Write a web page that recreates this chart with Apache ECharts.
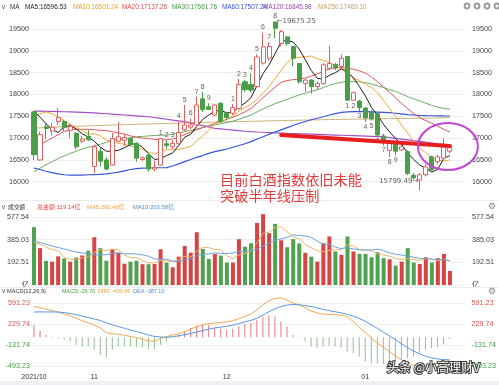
<!DOCTYPE html>
<html><head><meta charset="utf-8">
<script src="https://cdn.jsdelivr.net/npm/echarts@6/dist/echarts.min.js"></script>
<style>html,body{margin:0;padding:0;background:#fff}#c{width:499px;height:385px}</style>
</head><body><div id="c"></div>
<script>
// ---------- DATA ----------
const dates = [
'2021/10/18','2021/10/19','2021/10/20','2021/10/21','2021/10/22','2021/10/25','2021/10/26','2021/10/27','2021/10/28','2021/10/29',
'2021/11/01','2021/11/02','2021/11/03','2021/11/04','2021/11/05','2021/11/08','2021/11/09','2021/11/10','2021/11/11','2021/11/12',
'2021/11/15','2021/11/16','2021/11/17','2021/11/18','2021/11/19','2021/11/22','2021/11/23','2021/11/24','2021/11/25','2021/11/26',
'2021/11/29','2021/11/30','2021/12/01','2021/12/02','2021/12/03','2021/12/06','2021/12/07','2021/12/08','2021/12/09','2021/12/10',
'2021/12/13','2021/12/14','2021/12/15','2021/12/16','2021/12/17','2021/12/20','2021/12/21','2021/12/22','2021/12/23','2021/12/24',
'2021/12/27','2021/12/28','2021/12/29','2021/12/30','2021/12/31','2022/01/04','2022/01/05','2022/01/06','2022/01/07','2022/01/10',
'2022/01/11','2022/01/12','2022/01/13','2022/01/14','2022/01/17','2022/01/18','2022/01/19','2022/01/20','2022/01/21','2022/01/24'];
const monthLabels = ['2021/10','11','12','01'];
const openP = [17600,16500,17260,17160,17380,17380,17180,17110,16930,17040,
16350,16700,16500,16380,16930,16950,16990,16880,16510,16610,
16290,16380,16870,16800,16880,17190,17250,17300,17900,17720,
17530,17800,17570,17570,17680,18290,18230,18180,18720,18830,
19660,19170,19320,19095,18710,18250,18330,18180,18250,18600,
18690,18640,18870,17870,17850,17690,17600,17560,17050,16720,
16870,16730,16690,16150,16040,16160,16570,16460,16540,16700];
const closeP = [16620,17080,17220,17250,17470,17240,17270,16800,16980,16960,
16800,16470,16290,16990,17030,17010,16850,16540,16550,16290,
16330,16990,16830,16880,17130,17300,17300,17760,17650,17660,
17760,17380,17470,17700,18230,18110,18100,18860,19090,19100,
19520,19440,19170,18830,18290,18330,18180,18250,18680,18710,
18610,18830,17870,18040,17700,17460,17440,17070,16900,16880,
16700,16800,16190,16090,16160,16340,16270,16570,16800,16780];
const lowP = [16500,16480,16980,17060,17300,17160,17000,16740,16880,16930,
16200,16350,16260,16360,16900,16820,16820,16460,16480,16230,
16240,16370,16760,16750,16850,17150,17200,17250,17600,17640,
17500,17350,17420,17530,17650,18060,18050,18150,18680,18780,
19290,19100,19120,18650,18250,18060,18020,18100,18220,18560,
18560,18600,17850,17850,17620,17370,17400,17050,16830,16560,
16600,16700,16150,16050,15799.49,16120,16250,16400,16500,16650];
const highP = [17620,17150,17350,17350,17690,17420,17330,17140,17050,17180,
16850,16780,16560,17120,17370,17100,17000,16900,16580,16650,
16480,17000,16950,16950,17380,17760,17450,17950,18060,17800,
17780,17820,17600,17780,18360,18340,18480,18920,19420,19200,
19675.25,19480,19340,19100,18720,18360,18350,18300,18720,19120,
18720,18920,18880,18070,17880,17710,17650,17580,17100,16900,
16880,16850,16720,16200,16200,16400,16600,16620,16990,16850];
const ma5 = [17620,17480,17330,17200,17130,17260,17290,17210,17100,17020,
16930,16790,16700,16700,16720,16780,16850,16880,16790,16640,
16510,16530,16600,16660,16830,17020,17090,17270,17430,17530,
17620,17630,17580,17590,17720,17800,17930,18200,18480,18680,
18940,19200,19250,19200,19040,18800,18550,18370,18350,18440,
18500,18590,18520,18380,18180,17960,17700,17530,17310,17140,
16990,16850,16660,16510,16380,16310,16220,16290,16540,16596.53];
const ma10 = [17500,17560,17600,17560,17480,17400,17320,17250,17170,17090,
17100,17050,16950,16930,16880,16860,16820,16790,16750,16680,
16640,16690,16740,16730,16740,16770,16810,16940,17050,17180,
17330,17370,17430,17510,17620,17700,17780,17890,18040,18180,
18360,18560,18730,18850,18850,18870,18880,18820,18780,18740,
18650,18590,18460,18380,18320,18230,18160,18040,17860,17680,
17490,17290,17120,16920,16770,16660,16540,16490,16480,16501.24];
const ma20 = [16770,16850,16930,17000,17080,17150,17190,17200,17200,17200,
17190,17180,17170,17150,17120,17090,17050,17020,17000,16990,
16970,16960,16960,16980,17020,17080,17140,17190,17240,17290,
17340,17390,17430,17480,17540,17600,17680,17800,17930,18050,
18170,18280,18320,18340,18350,18380,18420,18470,18530,18590,
18610,18620,18600,18580,18540,18490,18400,18290,18170,18050,
17920,17790,17670,17560,17470,17400,17340,17270,17200,17137.26];
const ma30 = [16230,16310,16390,16460,16530,16590,16650,16700,16750,16790,
16820,16860,16900,16940,16970,16990,17010,17030,17040,17050,
17060,17065,17070,17090,17120,17150,17180,17210,17240,17270,
17300,17330,17360,17390,17430,17480,17530,17600,17670,17730,
17790,17840,17890,17940,17990,18030,18070,18110,18160,18210,
18250,18280,18300,18300,18290,18270,18240,18200,18160,18110,
18070,18010,17950,17900,17850,17800,17750,17710,17680,17661.76];
const ma60 = [16310,16280,16240,16210,16180,16160,16150,16150,16150,16160,
16165,16170,16180,16200,16220,16250,16280,16300,16310,16315,
16320,16320,16325,16360,16410,16460,16510,16560,16600,16650,
16690,16720,16750,16790,16830,16870,16920,16980,17030,17090,
17140,17190,17240,17290,17340,17380,17420,17455,17490,17530,
17560,17590,17600,17605,17605,17605,17600,17595,17590,17585,
17570,17555,17540,17530,17520,17515,17512,17510,17508,17507.24];
const ma120 = [17620,17618,17615,17612,17608,17604,17600,17596,17591,17585,
17578,17567,17558,17549,17540,17530,17520,17510,17500,17490,
17472,17452,17432,17412,17394,17376,17345,17315,17285,17254,
17223,17210,17197,17184,17170,17157,17147,17140,17134,17128,
17122,17116,17110,17105,17100,17095,17090,17085,17080,17075,
17070,17065,17060,17055,17050,17045,17040,17035,17030,17012,
16995,16978,16960,16942,16925,16906,16888,16870,16857,16845.98];
const ma250 = [17230,17236,17242,17248,17254,17260,17265,17270,17275,17280,
17285,17290,17295,17300,17304,17308,17312,17316,17320,17324,
17328,17332,17336,17340,17344,17348,17352,17356,17360,17364,
17368,17371,17374,17377,17380,17383,17386,17389,17392,17395,
17398,17401,17404,17407,17410,17413,17416,17419,17422,17425,
17428,17430,17432,17434,17436,17438,17440,17442,17444,17446,
17448,17450,17452,17454,17456,17458,17460,17463,17466,17469.10];
const volume = [490,312,204,198,243,225,198,233,250,290,
405,312,205,303,275,180,198,205,176,176,
178,303,190,150,240,331,274,447,306,221,
263,249,190,190,388,325,354,526,600,439,
518,379,320,389,352,272,240,198,354,411,
284,255,411,284,264,264,235,278,227,218,
164,198,312,190,178,235,190,227,264,119.14];
const volMa5 = [365,345,320,300,289,236,214,219,230,239,
275,298,292,303,300,255,232,232,207,187,
187,208,205,199,212,243,237,288,320,316,
302,297,246,223,256,268,289,357,439,449,
487,492,451,409,392,342,315,290,283,295,
297,300,343,329,300,296,292,265,254,244,
224,217,224,216,208,223,221,204,219,202.48];
const volMa10 = [370,360,345,330,318,305,292,280,272,264,
256,256,256,266,270,265,265,262,255,244,
221,220,218,203,200,215,222,247,260,264,
273,267,267,271,286,285,293,301,331,352,
378,391,404,424,420,415,404,371,346,343,
320,308,317,306,297,297,296,304,291,272,
260,254,244,235,226,224,219,214,218,203.58];
const diff = [533,510,485,458,435,400,370,330,285,250,
210,160,80,60,50,35,15,-5,-35,-60,
-72,-20,10,40,60,100,140,185,215,235,
245,255,265,285,320,360,400,470,560,630,
670,680,640,590,560,510,455,420,400,395,
390,380,355,270,170,80,-10,-100,-170,-245,
-320,-389,-440,-480,-500,-495,-470,-440,-410,-400.45];
const dea = [435,437,437,436,435,425,410,390,365,340,
315,290,250,215,185,155,125,100,70,40,
15,5,0,10,25,45,65,90,115,140,
160,175,190,210,235,265,290,330,380,440,
490,530,555,565,560,545,530,505,480,460,
440,420,395,365,325,275,215,155,90,25,
-40,-110,-175,-235,-285,-325,-355,-372,-383.8,-387.1];
const macdHist = [216,112,43,10,-15,-43,-72,-130,-159,-150,
-216,-303,-349,-216,-159,-159,-159,-170,-180,-200,
-200,-130,-72,10,43,101,158,205,216,216,
170,147,130,147,187,228,245,303,349,378,
360,274,187,40,-10,-72,-159,-187,-159,-140,
-159,-187,-245,-275,-332,-418,-447,-447,-465,-447,
-418,-389,-360,-332,-275,-216,-187,-170,-120,-26.70];
const tdUpIndex = [21,22,23,24,25,26,27,28,29,33,34,35,36,37,38,39,40];
const tdUpLabel = ['1','2','3','4','5','6','7','8','9','1','2','3','4','5','6','7','8'];
const tdDownIndex = [52,53,54,55,56,57,58,59,60];
const tdDownLabel = ['1','2','3','4','5','6','7','8','9'];
const priceTicks = [16000,16500,17000,17500,18000,18500,19000,19500];
const volTicks = [0,192.51,385.03,577.54];
const macdTicks = [591.23,229.74,-131.74,-493.23];

// ---------- CHART ----------
const FONT = "'Liberation Sans', Arial, 'Noto Sans CJK SC', sans-serif";
const CJK = "'Noto Sans CJK SC', sans-serif";
const GREEN = '#4a9e4a';
const cats = dates.concat(['pad1','pad2']);
const chart = echarts.init(document.getElementById('c'), null, {renderer:'canvas', width:499, height:385});

const monthIdx = [];
dates.forEach((d,i)=>{ if(i===0 || d.slice(0,7)!==dates[i-1].slice(0,7)) monthIdx.push(i); });
const monthMap = {}; monthIdx.forEach((k,j)=>monthMap[k]=monthLabels[j]);

function xAx(gi, show){
  return {type:'category', gridIndex:gi, data:cats, boundaryGap:true,
    axisLine:{show:false}, axisTick:{show:false}, splitLine:{show:false},
    axisLabel: show ? {show:true, interval:(i)=>monthMap[i]!==undefined, formatter:(v,i)=>monthMap[i]||'',
      fontSize:7, color:'#333', margin:4, fontFamily:FONT} : {show:false}};
}
function yAx(gi, pos, min, max, vals, fmt, margin, rich){
  return {type:'value', gridIndex:gi, position:pos, min, max,
    axisLine:{show:false}, axisTick:{show:false, customValues:vals},
    axisLabel:{customValues:vals, formatter:fmt, fontSize:7.2, color:'#444', margin, fontFamily:FONT, rich:rich||{}},
    splitLine:{show:pos==='left', lineStyle:{color:'#efefef', width:1}}};
}
const macdFmt = v => (v>=0 ? '{r|' : '{g|') + v.toFixed(2) + '}';
const macdRich = {r:{color:'#d9534f', fontSize:7.2, fontFamily:FONT}, g:{color:'#3c9c3c', fontSize:7.2, fontFamily:FONT}};
const volFmt = v => v===0 ? '亿' : v.toFixed(2);
const priceFmt = v => String(v);

function maLine(data, color, w){
  return {type:'line', xAxisIndex:0, yAxisIndex:0, data, symbol:'none', silent:true,
    lineStyle:{color, width:w||1}, z:3};
}

const hiIdx = highP.indexOf(Math.max(...highP));
const loIdx = lowP.indexOf(Math.min(...lowP));

const option = {
  animation:false,
  textStyle:{fontFamily:FONT},
  grid:[
    {left:31, top:14, width:434, height:183},
    {left:31, top:213, width:434, height:72},
    {left:31, top:296, width:434, height:74}
  ],
  xAxis:[xAx(0,false), xAx(1,false), xAx(2,true)],
  yAxis:[
    yAx(0,'left',15650,19845,priceTicks,priceFmt,2),
    yAx(0,'right',15650,19845,priceTicks,priceFmt,7),
    yAx(1,'left',0,610,volTicks,volFmt,2),
    yAx(1,'right',0,610,volTicks,volFmt,7),
    yAx(2,'left',-563,711,macdTicks,macdFmt,1,macdRich),
    yAx(2,'right',-563,711,macdTicks,macdFmt,7,macdRich)
  ],
  series:[
    {type:'candlestick', xAxisIndex:0, yAxisIndex:0, barWidth:4.6,
      data: dates.map((d,i)=>[openP[i], closeP[i], lowP[i], highP[i]]),
      itemStyle:{color:'#ffffff', color0:GREEN, borderColor:'#e06060', borderColor0:GREEN, borderWidth:1}, z:4},
    maLine(ma250,'#cdb27a'),
    maLine(ma120,'#a34fc4',1.2),
    maLine(ma60,'#3456dc',1.2),
    maLine(ma30,'#6aae62'),
    maLine(ma20,'#e05555'),
    maLine(ma10,'#f0a93a'),
    maLine(ma5,'#1a1a1a'),
    {type:'scatter', xAxisIndex:0, yAxisIndex:0, symbolSize:1, itemStyle:{color:'rgba(0,0,0,0)'}, silent:true, z:6,
      data: tdUpIndex.map((k,j)=>({value:[k, highP[k]], label:{formatter:tdUpLabel[j]}})),
      label:{show:true, position:'top', distance:1, fontSize:7, color:'#333', fontFamily:FONT}},
    {type:'scatter', xAxisIndex:0, yAxisIndex:0, symbolSize:1, itemStyle:{color:'rgba(0,0,0,0)'}, silent:true, z:6,
      data: tdDownIndex.map((k,j)=>({value:[k, lowP[k]], label:{formatter:tdDownLabel[j]}})),
      label:{show:true, position:'bottom', distance:1, fontSize:7, color:'#333', fontFamily:FONT}},
    {type:'scatter', xAxisIndex:0, yAxisIndex:0, symbolSize:1, itemStyle:{color:'rgba(0,0,0,0)'}, silent:true, z:6,
      data:[
        {value:[hiIdx, highP[hiIdx]], label:{position:'right', distance:1, formatter:'←'+highP[hiIdx].toFixed(2)}},
        {value:[loIdx, lowP[loIdx]], label:{position:'left', distance:1, offset:[0,-9], formatter:lowP[loIdx].toFixed(2)+'→'}}
      ],
      label:{show:true, fontSize:7, color:'#333', fontFamily:"'DejaVu Sans', sans-serif"}},
    {type:'bar', xAxisIndex:1, yAxisIndex:2, barWidth:4, silent:true,
      data: volume.map((v,i)=>({value:v, itemStyle:{color: closeP[i]>=openP[i] ? '#d84444' : '#4fa350'}}))},
    {type:'line', xAxisIndex:1, yAxisIndex:2, data:volMa5, symbol:'none', silent:true, lineStyle:{color:'#f2b46a', width:1}, z:3},
    {type:'line', xAxisIndex:1, yAxisIndex:2, data:volMa10, symbol:'none', silent:true, lineStyle:{color:'#6aa2dc', width:1}, z:3},
    {type:'bar', xAxisIndex:2, yAxisIndex:4, barWidth:1, silent:true,
      data: macdHist.map(v=>({value:v, itemStyle:{color: v>=0 ? '#e07a7a' : '#93bf93'}}))},
    {type:'line', xAxisIndex:2, yAxisIndex:4, data:diff, symbol:'none', silent:true, lineStyle:{color:'#f0a850', width:1}, z:3},
    {type:'line', xAxisIndex:2, yAxisIndex:4, data:dea, symbol:'none', silent:true, lineStyle:{color:'#5b95e0', width:1}, z:3}
  ]
};
chart.setOption(option);

// ---------- annotations / headers ----------
const lineA = chart.convertToPixel({gridIndex:0}, [41, 17070]);
const lineB = chart.convertToPixel({gridIndex:0}, [69, 16818]);
const ell = chart.convertToPixel({gridIndex:0}, [69, 16807]);
function txt(x, y, text, fill, size, family, extra){
  return {type:'text', x, y, silent:true, z:100,
    style:Object.assign({text, fill, fontSize:size, fontFamily:family||FONT, align:'left', verticalAlign:'middle'}, extra||{})};
}
const g = [
  {type:'rect', shape:{x:0, y:381, width:499, height:4}, style:{fill:'#eef0f3'}, silent:true, z:1},
  {type:'line', shape:{x1:0, y1:200.5, x2:499, y2:200.5}, style:{stroke:'#ececec', lineWidth:1}, silent:true, z:1},
  {type:'line', shape:{x1:0, y1:287.5, x2:499, y2:287.5}, style:{stroke:'#ececec', lineWidth:1}, silent:true, z:1},
  txt(1, 7, '∨', '#666', 7, "'DejaVu Sans', sans-serif"),
  txt(10, 7, 'MA', '#333', 6.4),
  txt(25, 7, 'MA5:16596.53', '#222', 6.4),
  txt(73, 7, 'MA10:16501.24', '#f0a020', 6.4),
  txt(122, 7, 'MA20:17137.26', '#e04848', 6.4),
  txt(172, 7, 'MA30:17661.76', '#3c9c3c', 6.4),
  txt(222, 7, 'MA60:17507.24', '#3050e0', 6.4),
  txt(263, 7, 'MA120:16845.98', '#a040b0', 6.4),
  txt(318, 7, 'MA250:17469.10', '#c8a060', 6.4),
  txt(1, 207, '∨', '#666', 7, "'DejaVu Sans', sans-serif"),
  txt(8, 207, '成交额', '#333', 5.8, CJK),
  txt(37, 207, '总金额:119.14亿', '#e04848', 6.0, FONT),
  txt(87, 207, 'MA5:202.48亿', '#f0a040', 5.9, FONT),
  txt(133, 207, 'MA10:203.58亿', '#4a90d9', 5.9, FONT),
  txt(1, 291, '∨', '#666', 7, "'DejaVu Sans', sans-serif"),
  txt(7, 291, 'MACD(12,26,9)', '#333', 5.6),
  txt(62, 291, 'MACD:-26.70', '#3c9c3c', 5.5),
  txt(98, 291, 'DIFF:-400.45', '#f0a040', 5.5),
  txt(133, 291, 'DEA:-387.10', '#4a90d9', 5.5),
  txt(488, 207, '⚙', '#888', 9, "'DejaVu Sans', sans-serif"),
  txt(488, 292, '⚙', '#888', 9, "'DejaVu Sans', sans-serif"),
  {type:'line', shape:{x1:lineA[0], y1:lineA[1], x2:lineB[0], y2:lineB[1]}, style:{stroke:'#e81e1e', lineWidth:4, lineCap:'round'}, silent:true, z:90},
  {type:'ellipse', shape:{cx:ell[0]-2, cy:ell[1], rx:30, ry:23.5}, style:{fill:'rgba(0,0,0,0)', stroke:'#c247d3', lineWidth:2}, silent:true, z:91},
  txt(220, 180, '目前白酒指数依旧未能', '#e03a3a', 14.2, CJK),
  txt(220, 196, '突破半年线压制', '#e03a3a', 14.2, CJK),
  txt(387, 367, '头条 @小高理财V', '#ffffff', 12, CJK, {stroke:'#3a3a3a', lineWidth:2})
];
[467,477,487,497].forEach(x=>{
  g.push({type:'circle', shape:{cx:x, cy:6, r:3.4}, style:{fill:'#9a9a9a'}, silent:true, z:100});
  g.push({type:'circle', shape:{cx:x, cy:6, r:1.5}, style:{fill:'#ffffff'}, silent:true, z:101});
});
chart.setOption({graphic:g});
</script>
</body></html>
